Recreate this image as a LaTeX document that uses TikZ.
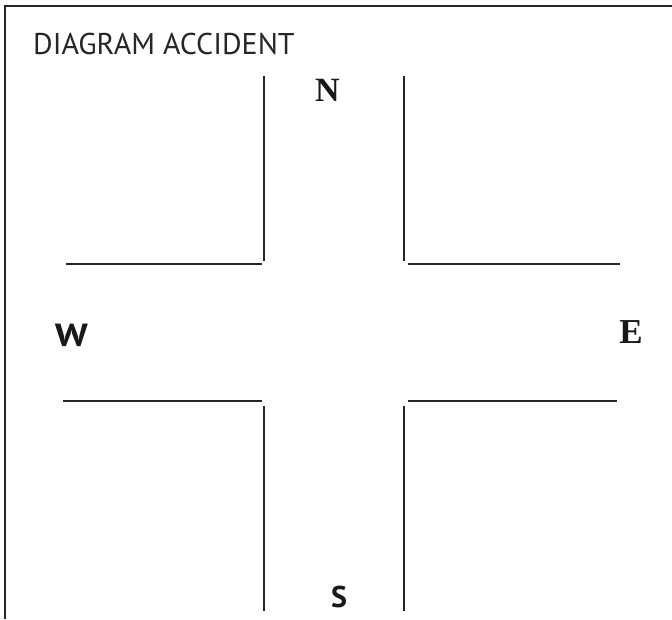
\documentclass[tikz,border=0pt]{standalone}
\usepackage{fontspec}
\setmainfont{PT Sans}
\newfontfamily\serifbold{Liberation Serif}
\begin{document}
\begin{tikzpicture}[x=1pt,y=-1pt,
  road/.style={line width=2pt,draw=black!85},
  frame/.style={line width=2pt,draw=black!85},
  compass/.style={inner sep=0pt,text=black!90},
  title/.style={inner sep=0pt,anchor=base west,text=black!85}]
\useasboundingbox (0,0) rectangle (672,619);
% frame (open at right and bottom)
\draw[frame] (5,619) -- (5,6) -- (672,6);
% title
\node[title,font=\fontsize{30}{36}\selectfont] (title) at (33,54) {DIAGRAM ACCIDENT};
% north arm
\draw[road] (264,76) -- (264,261);
\draw[road] (404,76) -- (404,261);
% west arm
\draw[road] (66,264) -- (262,264);
\draw[road] (63,401) -- (262,401);
% east arm
\draw[road] (408,264) -- (620,264);
\draw[road] (408,401) -- (617,401);
% south arm
\draw[road] (264,406) -- (264,611);
\draw[road] (404,406) -- (404,611);
% compass letters
\node[compass,font=\serifbold\bfseries\fontsize{34}{36}\selectfont] (north) at (327.5,90.5) {N};
\node[compass,font=\serifbold\bfseries\fontsize{35}{36}\selectfont] (east) at (631,332) {E};
\node[compass,font=\bfseries\fontsize{32}{36}\selectfont,xscale=1.2] (west) at (71.5,335.5) {W};
\node[compass,font=\bfseries\fontsize{30}{36}\selectfont] (south) at (339,596.5) {S};
\end{tikzpicture}
\end{document}
